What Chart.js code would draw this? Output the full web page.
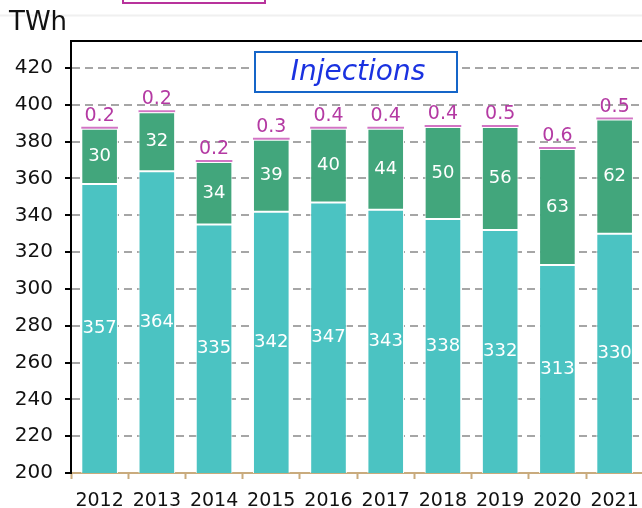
<!DOCTYPE html>
<html>
<head>
<meta charset="utf-8">
<script src="https://cdn.jsdelivr.net/npm/chart.js@4"></script>
<style>
  html, body { margin: 0; padding: 0; background: #fff; overflow: hidden; width: 642px; height: 508px; }
  #wrap { width: 650px; height: 508px; }
</style>
</head>
<body>
<div id="wrap"><canvas id="chart" width="650" height="508"></canvas></div>
<script>
// Chart data (TWh)
const years = ['2012', '2013', '2014', '2015', '2016', '2017', '2018', '2019', '2020', '2021'];
const baseInjections = [357, 364, 335, 342, 347, 343, 338, 332, 313, 330];
const greenInjections = [30, 32, 34, 39, 40, 44, 50, 56, 63, 62];
const otherInjections = [0.2, 0.2, 0.2, 0.3, 0.4, 0.4, 0.4, 0.5, 0.6, 0.5];
const yTicks = [200, 220, 240, 260, 280, 300, 320, 340, 360, 380, 400, 420];

const FONT = "'DejaVu Sans', sans-serif";

// Value labels inside / above the bars
const labelPlugin = {
  id: 'barLabels',
  afterDatasetsDraw(chart) {
    const ctx = chart.ctx;
    const area = chart.chartArea;
    ctx.save();
    ctx.textAlign = 'center';
    ctx.textBaseline = 'middle';
    chart.data.datasets.forEach((ds, di) => {
      const meta = chart.getDatasetMeta(di);
      meta.data.forEach((el, i) => {
        const v = ds.data[i];
        if (di === 2) {
          ctx.font = '19px ' + FONT;
          ctx.fillStyle = '#b43aa3';
          ctx.fillText(String(v), el.x, el.y - 11);
        } else {
          const bottom = Math.min(el.base, area.bottom);
          ctx.font = '18px ' + FONT;
          ctx.fillStyle = '#ffffff';
          ctx.fillText(String(v), el.x, (el.y + bottom) / 2);
        }
      });
    });
    ctx.restore();
  }
};

// Frame, unit label and title box
const decorPlugin = {
  id: 'decor',
  afterDraw(chart) {
    const ctx = chart.ctx;
    const area = chart.chartArea;
    ctx.save();
    // faint line at very top
    ctx.strokeStyle = '#f0f0f0';
    ctx.lineWidth = 2;
    ctx.beginPath();
    ctx.moveTo(0, 15.5);
    ctx.lineTo(chart.width, 15.5);
    ctx.stroke();
    // cut off box at top
    ctx.strokeStyle = '#b8339c';
    ctx.lineWidth = 2;
    ctx.strokeRect(123, -20, 142, 23);
    // top frame line
    ctx.strokeStyle = '#000';
    ctx.lineWidth = 2;
    ctx.beginPath();
    ctx.moveTo(area.left - 1, area.top);
    ctx.lineTo(chart.width, area.top);
    ctx.stroke();
    // unit
    ctx.fillStyle = '#111';
    ctx.font = '26px ' + FONT;
    ctx.textAlign = 'left';
    ctx.textBaseline = 'middle';
    ctx.fillText('TWh', 9, 23);
    // title box
    ctx.fillStyle = '#fff';
    ctx.fillRect(255, 52, 202, 40);
    ctx.strokeStyle = '#1565c8';
    ctx.lineWidth = 2;
    ctx.strokeRect(255, 52, 202, 40);
    ctx.fillStyle = '#1a32e0';
    ctx.font = 'italic 28px ' + FONT;
    ctx.textAlign = 'center';
    ctx.fillText('Injections', 358, 73);
    ctx.restore();
  }
};

const chart = new Chart(document.getElementById('chart'), {
  type: 'bar',
  data: {
    labels: years,
    datasets: [
      {
        data: baseInjections,
        backgroundColor: '#4bc3c2',
        borderColor: '#ffffff',
        borderWidth: 1,
        borderSkipped: false
      },
      {
        data: greenInjections,
        backgroundColor: '#42a67c',
        borderColor: '#ffffff',
        borderWidth: 1,
        borderSkipped: false
      },
      {
        data: otherInjections,
        backgroundColor: '#d274c4',
        borderWidth: 0,
        minBarLength: 2
      }
    ]
  },
  options: {
    responsive: false,
    animation: false,
    devicePixelRatio: 1,
    layout: { padding: { top: 41, right: 4, left: 0, bottom: 0 } },
    datasets: {
      bar: { barPercentage: 0.64, categoryPercentage: 1 }
    },
    plugins: {
      legend: { display: false },
      tooltip: { enabled: false },
      title: { display: false }
    },
    scales: {
      x: {
        stacked: true,
        offset: true,
        grid: {
          display: true,
          drawOnChartArea: false,
          drawTicks: true,
          offset: true,
          tickLength: 6,
          tickColor: '#c9ab7d',
          tickWidth: 2
        },
        border: { display: true, color: '#c9ab7d', width: 2 },
        ticks: {
          color: '#111',
          font: { family: FONT, size: 19 },
          padding: 11,
          maxRotation: 0,
          autoSkip: false
        },
        afterFit(scale) { scale.height = 35; }
      },
      y: {
        stacked: true,
        min: 200,
        max: 434.7,
        afterBuildTicks(scale) {
          scale.ticks = yTicks.map(v => ({ value: v }));
        },
        afterFit(scale) { scale.width = 71; },
        grid: {
          color: ctx => (ctx.tick && ctx.tick.value === 200) ? 'rgba(0,0,0,0)' : '#a6a6a6',
          lineWidth: 2,
          drawTicks: true,
          tickLength: 6,
          tickColor: '#000',
          tickWidth: 2,
          tickBorderDash: []
        },
        border: { display: true, color: '#000', width: 2, dash: [8, 5] },
        ticks: {
          color: '#111',
          font: { family: FONT, size: 20 },
          padding: 12
        }
      }
    }
  },
  plugins: [labelPlugin, decorPlugin]
});
</script>
</body>
</html>
